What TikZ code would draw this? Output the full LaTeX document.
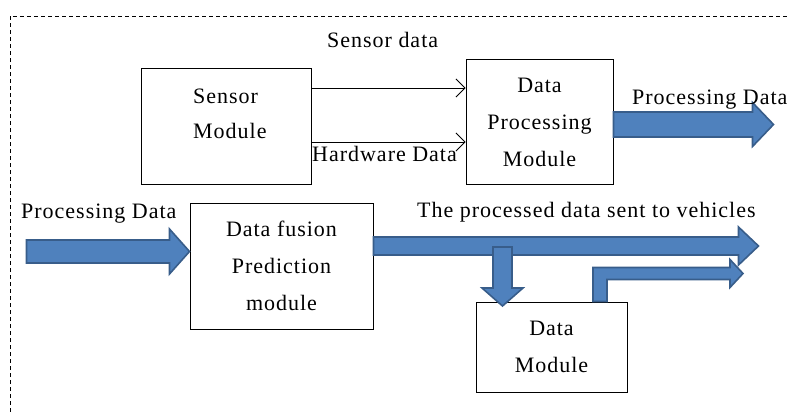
\documentclass[tikz,border=0pt]{standalone}
\usepackage{fontspec}
\setmainfont{Liberation Serif}[LetterSpace=4.5]
\usetikzlibrary{arrows.meta,calc}
\definecolor{arrowfill}{HTML}{4F81BD}
\definecolor{arrowedge}{HTML}{385D8A}

% right-pointing block arrow: #1 tail centre, #2 shaft length, #3 shaft half width,
% #4 head length, #5 head half width
\newcommand{\rightblock}[5]{%
  \filldraw[block] ($#1+(0,-#3)$) -- ++(#2,0) -- ++(0,#3-#5) -- ++(#4,#5)
    -- ++(-#4,#5) -- ++(0,#3-#5) -- ++(-#2,0) -- cycle;}
% downward block arrow, same arguments
\newcommand{\downblock}[5]{%
  \filldraw[block] ($#1+(-#3,0)$) -- ++(0,#2) -- ++(#3-#5,0) -- ++(#5,#4)
    -- ++(#5,-#4) -- ++(#3-#5,0) -- ++(0,-#2) -- cycle;}

\begin{document}
\begin{tikzpicture}[x=1pt,y=-1pt,
  box/.style={draw, line width=1pt, inner sep=0pt, align=center,
    font=\fontsize{22}{37}\selectfont},
  boxtext/.style={inner sep=0pt, align=left, font=\fontsize{22}{35}\selectfont},
  lbl/.style={inner sep=0pt, anchor=base west, font=\fontsize{22}{26}\selectfont},
  block/.style={fill=arrowfill, draw=arrowedge, line width=1.6pt, line join=miter},
  thinarrow/.style={line width=0.8pt,
    -{Straight Barb[length=9pt,width=18pt,line width=0.8pt]}}
]
\useasboundingbox (0,0) rectangle (790,412);

% dashed frame
\draw[dash pattern=on 4pt off 3pt, line width=0.8pt] (10,412) -- (10,16) -- (790,16);

% modules
\node[box, minimum width=170pt, minimum height=115pt] (sensor) at (226,126.5) {};
\node[boxtext, anchor=west] (sensortext) at (193,114) {Sensor\\Module};
\node[box, minimum width=147pt, minimum height=124pt] (dpm) at (539.5,122)
  {Data\\Processing\\Module};
\node[box, minimum width=183pt, minimum height=126pt] (fusion) at (281.5,266)
  {Data fusion\\Prediction\\module};
\node[box, minimum width=151pt, minimum height=90pt] (dm) at (551.5,347)
  {Data\\Module};

% sensor module to data processing module
\draw[thinarrow] (sensor.east |- 0,88) -- (dpm.west |- 0,88);
\draw[thinarrow] (sensor.east |- 0,142) -- (dpm.west |- 0,142);

% block arrows
\coordinate (outA) at (dpm.east |- 0,124.5);
\rightblock{(outA)}{139}{12.5}{21}{22}
\coordinate (inB) at ($(fusion.west |- 0,251.5)+(-163,0)$);
\rightblock{(inB)}{143}{11.5}{20}{22.5}
\coordinate (outC) at (fusion.east |- 0,246);
\rightblock{(outC)}{365}{9}{20}{19}
\coordinate (downD) at (502.5,247);
\downblock{(downD)}{41}{9.5}{18}{20.5}
% bent arrow leaving the data module
\coordinate (bendE) at (dm.north -| 600,0);
\filldraw[block] ($(bendE)+(-7,0)$) -- ++(0,-34) -- ++(137,0) -- ++(0,-8)
  -- ++(13,14) -- ++(-13,14) -- ++(0,-8) -- ++(-123,0) -- ++(0,22) -- cycle;

% labels
\node[lbl] (sensordata) at (327,48) {Sensor data};
\node[lbl] (procout) at (632,104) {Processing Data};
\node[lbl] (hardware) at (312,161) {Hardware Data};
\node[lbl] (procin) at (21,218) {Processing Data};
\node[lbl] (vehicles) at (417,217) {The processed data sent to vehicles};
\end{tikzpicture}
\end{document}
